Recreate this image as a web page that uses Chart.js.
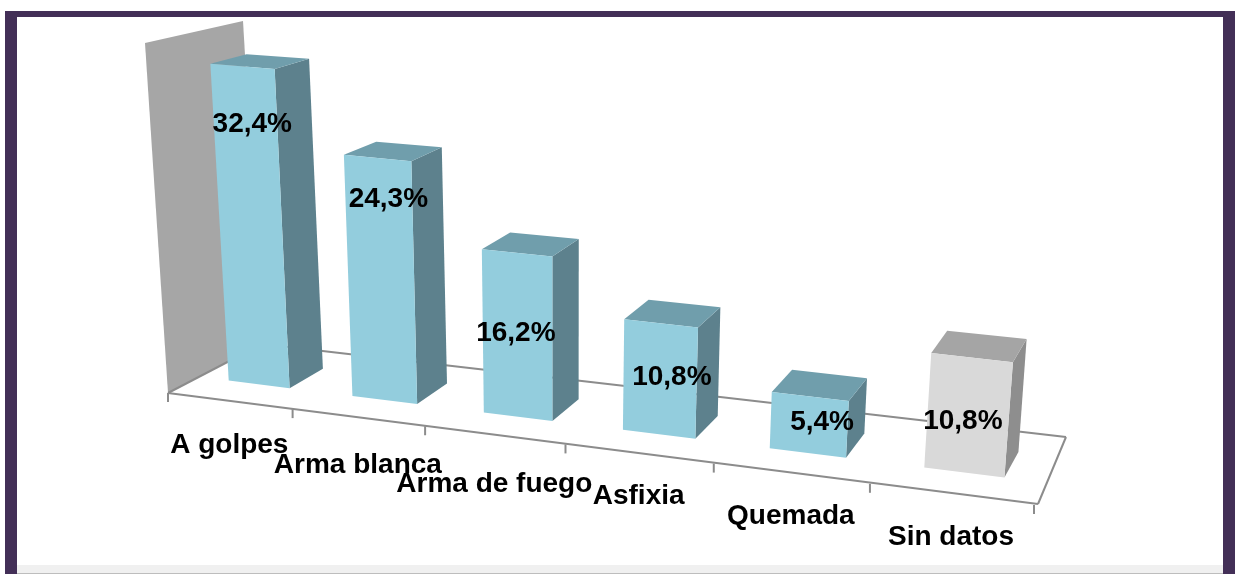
<!DOCTYPE html>
<html>
<head>
<meta charset="utf-8">
<title>Chart</title>
<script src="https://cdn.jsdelivr.net/npm/chart.js@4/dist/chart.umd.min.js"></script>
<style>
    html, body { margin: 0; padding: 0; background: #ffffff; }
    #frame { position: absolute; left: 5px; top: 11px; width: 1230px; height: 563px; background: #432f57; }
    #panel { position: absolute; left: 12px; top: 6px; width: 1206px; height: 557px; background: #ffffff; }
    #strip { position: absolute; left: 0; bottom: 0; width: 100%; height: 9px; background: #f0f0f0; border-bottom: 1px solid #bdbdbd; box-sizing: border-box; }
</style>
</head>
<body>
<div id="frame"><div id="panel"><div id="strip"></div></div></div>
<canvas id="causes" width="1235" height="574" style="position:absolute;left:0;top:0"></canvas>
<script>
const categories = ["A golpes", "Arma blanca", "Arma de fuego", "Asfixia", "Quemada", "Sin datos"];
const percentages = [32.4, 24.3, 16.2, 10.8, 5.4, 10.8];
const frontColors = ["#93cddd", "#93cddd", "#93cddd", "#93cddd", "#93cddd", "#d9d9d9"];
const topColors = ["#709eac", "#709eac", "#709eac", "#709eac", "#709eac", "#a5a5a5"];
const sideColors = ["#5d818d", "#5d818d", "#5d818d", "#5d818d", "#5d818d", "#8e8e8e"];

// corners of the 3d box on screen (f/b = front/back, b/t = bottom/top, l/r)
const box = {
    fbl: [168, 393], fbr: [1034, 505], bbl: [262, 344], bbr: [1068, 437],
    ftl: [145, 43], ftr: [1065, 123], btl: [243, 21], btr: [1096, 75]
};
const floorCorner = [1038, 504];
const floorBack = [1066, 437];
const barFront = 0.33;
const barBack = 0.71;
const labelNudge = [[10, 57.5], [11, 41], [-1, 80], [11, 54], [12, 26], [-9, 64]];
const categoryDrop = [44, 48, 49, 42, 43, 43];

function mix(a, b, k) {
    return [a[0] + (b[0] - a[0]) * k, a[1] + (b[1] - a[1]) * k];
}

// t along the categories, v up the value axis, w into the depth
function project(t, v, w) {
    const u = 0.836 * t + 0.164 * t * t;
    const front = mix(mix(box.fbl, box.fbr, u), mix(box.ftl, box.ftr, u), v);
    const back = mix(mix(box.bbl, box.bbr, u), mix(box.btl, box.btr, u), v);
    return mix(front, back, w);
}

function poly(ctx, pts, fill) {
    ctx.beginPath();
    pts.forEach((p, i) => i ? ctx.lineTo(p[0], p[1]) : ctx.moveTo(p[0], p[1]));
    ctx.closePath();
    ctx.fillStyle = fill;
    ctx.fill();
}

function line(ctx, a, b) {
    ctx.beginPath();
    ctx.moveTo(a[0], a[1]);
    ctx.lineTo(b[0], b[1]);
    ctx.stroke();
}

const perspectiveBars = {
    id: "perspectiveBars",
    beforeDatasetsDraw(chart) {
        const ctx = chart.ctx;
        ctx.save();
        poly(ctx, [box.ftl, box.btl, box.bbl, box.fbl], "#a6a6a6");
        ctx.strokeStyle = "#8c8c8c";
        ctx.lineWidth = 2;
        line(ctx, box.fbl, box.bbl);
        line(ctx, box.bbl, floorBack);
        line(ctx, floorBack, floorCorner);
        line(ctx, floorCorner, box.fbl);
        for (let i = 0; i <= categories.length; i++) {
            const p = project(i / categories.length, 0, 0);
            line(ctx, p, [p[0], p[1] + 9]);
        }
        ctx.restore();
    },
    beforeDatasetDraw(chart, args) {
        const ctx = chart.ctx;
        const area = chart.chartArea;
        const meta = args.meta;
        ctx.save();
        meta.data.forEach((bar, i) => {
            const t0 = (bar.x - bar.width / 2 - area.left) / area.width;
            const t1 = (bar.x + bar.width / 2 - area.left) / area.width;
            const v = (area.bottom - bar.y) / area.height;
            const a = project(t0, 0, barFront), b = project(t1, 0, barFront);
            const c = project(t1, v, barFront), d = project(t0, v, barFront);
            const e = project(t1, 0, barBack), f = project(t1, v, barBack);
            const g = project(t0, v, barBack);
            poly(ctx, [b, e, f, c], sideColors[i]);
            poly(ctx, [d, c, f, g], topColors[i]);
            poly(ctx, [a, b, c, d], frontColors[i]);
        });
        ctx.restore();
        return false;
    },
    afterDatasetsDraw(chart) {
        const ctx = chart.ctx;
        const area = chart.chartArea;
        const meta = chart.getDatasetMeta(0);
        ctx.save();
        ctx.font = "bold 28px 'Liberation Sans', Arial, sans-serif";
        ctx.fillStyle = "#000000";
        ctx.textAlign = "center";
        ctx.textBaseline = "middle";
        meta.data.forEach((bar, i) => {
            const t = (bar.x - area.left) / area.width;
            const v = (area.bottom - bar.y) / area.height;
            const top = project(t, v, barFront);
            const text = percentages[i].toFixed(1).replace(".", ",") + "%";
            ctx.fillText(text, top[0] + labelNudge[i][0], top[1] + labelNudge[i][1]);
            const edge = project(t, 0, 0);
            ctx.fillText(categories[i], edge[0], edge[1] + categoryDrop[i]);
        });
        ctx.restore();
    }
};

new Chart(document.getElementById("causes").getContext("2d"), {
    type: "bar",
    data: {
        labels: categories,
        datasets: [{
            label: "Causa",
            data: percentages,
            backgroundColor: frontColors,
            barPercentage: 0.5,
            categoryPercentage: 1
        }]
    },
    options: {
        responsive: false,
        animation: false,
        plugins: {
            legend: { display: false },
            tooltip: { enabled: false }
        },
        scales: {
            x: { display: false },
            y: { display: false, min: 0, max: 35 }
        }
    },
    plugins: [perspectiveBars]
});
</script>
</body>
</html>
